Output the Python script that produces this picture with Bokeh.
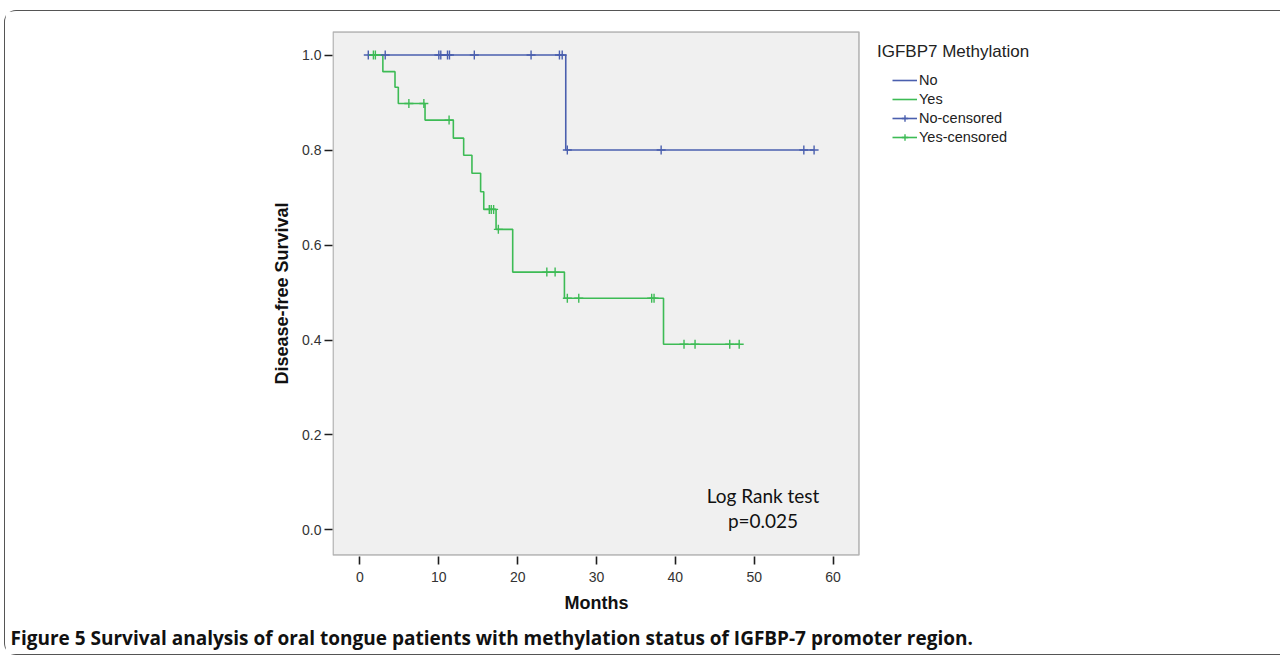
from bokeh.plotting import figure
from bokeh.models import (Range1d, Label, Legend, LegendItem, FixedTicker, BoxAnnotation, Title)
from bokeh.embed import file_html
from bokeh.resources import INLINE

# ---------------- data ----------------
no_step_time = [1.0, 26.1, 57.6]
no_step_surv = [1.0, 0.8, 0.8]
no_cens_time = [1.05, 3.2, 10.0, 10.25, 11.1, 11.35, 14.5, 21.7, 25.3, 25.65, 26.3, 38.2, 56.3, 57.6]
no_cens_surv = [1.0, 1.0, 1.0, 1.0, 1.0, 1.0, 1.0, 1.0, 1.0, 1.0, 0.8, 0.8, 0.8, 0.8]

yes_step_time = [1.5, 2.9, 4.44, 4.86, 8.25, 11.84, 13.15, 14.2, 15.3, 15.7, 17.26, 19.37, 25.93, 38.5, 48.1]
yes_step_surv = [1.0, 0.965, 0.932, 0.898, 0.863, 0.825, 0.789, 0.751, 0.712, 0.675, 0.633, 0.543, 0.488, 0.391, 0.391]
yes_cens_time = [1.7, 1.95, 6.2, 8.1, 11.3, 16.4, 16.65, 16.95, 17.55, 23.7, 24.75, 26.3, 27.75, 37.0, 37.3,
                 41.1, 42.5, 46.9, 48.1]
yes_cens_surv = [1.0, 1.0, 0.898, 0.898, 0.863, 0.675, 0.675, 0.675, 0.633, 0.543, 0.543, 0.488, 0.488, 0.488,
                 0.488, 0.391, 0.391, 0.391, 0.391]

x_ticks = [0, 10, 20, 30, 40, 50, 60]
y_ticks = [0.0, 0.2, 0.4, 0.6, 0.8, 1.0]
y_tick_labels = ["0.0", "0.2", "0.4", "0.6", "0.8", "1.0"]

x_label = "Months"
y_label = "Disease-free Survival"
legend_title = "IGFBP7 Methylation"
series_labels = ["No", "Yes", "No-censored", "Yes-censored"]
test_lines = ["Log Rank test", "p=0.025"]
caption = "Figure 5 Survival analysis of oral tongue patients with methylation status of IGFBP-7 promoter region."

# ---------------- layout (positions only) ----------------
W, H = 1276, 645
BL, BT, BB = 327, 19, 100
# data window of the frame (frame spans plot box + legend area)
X0, X1 = -3.488, 116.89
Y0, Y1 = -0.0558, 1.0516
# plot box (grey area) edges
BOX_L, BOX_R, BOX_T, BOX_B = -3.425, 63.30, 1.0484, -0.0526

BLUE = "#4A5FAE"
GREEN = "#3DBB55"
FONT = "Liberation Sans"

p = figure(width=W, height=H, output_backend="svg", toolbar_location=None,
           x_range=Range1d(X0, X1), y_range=Range1d(Y0, Y1),
           min_border_left=BL, min_border_right=0, min_border_top=BT, min_border_bottom=BB)
p.styles = {"margin-left": "4px", "margin-top": "10px",
            "border-top": "1.5px solid #555555", "border-left": "1.5px solid #555555",
            "border-bottom": "1.5px solid #555555",
            "border-top-left-radius": "12px", "border-bottom-left-radius": "12px"}
p.background_fill_color = "white"
p.border_fill_color = "white"
p.outline_line_color = None
p.xgrid.visible = False
p.ygrid.visible = False

p.add_layout(BoxAnnotation(left=BOX_L, right=BOX_R, top=BOX_T, bottom=BOX_B, level="underlay",
                           fill_color="#F0F0F0", fill_alpha=1.0,
                           line_color="#1E1E1E", line_width=1.6))

for ax in (p.xaxis[0], p.yaxis[0]):
    ax.axis_line_color = None
    ax.major_tick_line_color = "#1E1E1E"
    ax.major_tick_line_width = 1.6
    ax.major_tick_out = 8
    ax.major_tick_in = 0
    ax.minor_tick_line_color = None
    ax.major_label_text_font = FONT
    ax.major_label_text_font_size = "14px"
    ax.major_label_text_color = "#333333"
    ax.axis_label_text_font = FONT
    ax.axis_label_text_font_style = "bold"
    ax.axis_label_text_font_size = "18px"
    ax.axis_label_text_color = "#111111"

p.xaxis.ticker = FixedTicker(ticks=x_ticks)
p.yaxis.ticker = FixedTicker(ticks=y_ticks)
p.yaxis.major_label_overrides = {t: l for t, l in zip(y_ticks, y_tick_labels)}
p.yaxis.axis_label = y_label
p.xaxis.major_label_standoff = 7
p.yaxis.major_label_standoff = 3
p.yaxis.axis_label_standoff = 7

# x-axis title placed under the plot box (the frame also spans the legend area)
p.add_layout(Title(text=x_label, align="left", offset=232, standoff=12, text_font=FONT,
                   text_font_size="18px", text_font_style="bold", text_color="#111111"), "below")
# figure caption
p.add_layout(Title(text=caption, align="left", offset=-322, standoff=9, text_font="Open Sans",
                   text_font_size="19px", text_font_style="bold", text_color="#111111"), "below")

r_no = p.step(no_step_time, no_step_surv, mode="after", line_color=BLUE, line_width=1.6)
r_yes = p.step(yes_step_time, yes_step_surv, mode="after", line_color=GREEN, line_width=1.6)
r_noc = p.scatter(no_cens_time, no_cens_surv, marker="cross", size=9, line_color=BLUE, line_width=1.4)
r_yesc = p.scatter(yes_cens_time, yes_cens_surv, marker="cross", size=9, line_color=GREEN, line_width=1.4)

legend = Legend(items=[
    LegendItem(label=series_labels[0], renderers=[r_no]),
    LegendItem(label=series_labels[1], renderers=[r_yes]),
    LegendItem(label=series_labels[2], renderers=[r_no, r_noc]),
    LegendItem(label=series_labels[3], renderers=[r_yes, r_yesc]),
], location=(560, 411))
legend.label_text_font = FONT
legend.label_text_font_size = "14.5px"
legend.label_text_color = "#222222"
legend.glyph_width = 25
legend.glyph_height = 16
legend.label_height = 16
legend.spacing = 3
legend.label_standoff = 2
legend.padding = 0
legend.margin = 0
legend.background_fill_alpha = 0
legend.border_line_color = None
p.add_layout(legend, "center")

p.add_layout(Label(x=65.58, y=1.0084, text=legend_title, text_font=FONT,
                   text_font_size="17px", text_color="#222222", text_baseline="middle"))

p.add_layout(Label(x=51.12, y=0.0716, text=test_lines[0], text_font="Lato",
                   text_font_size="19px", text_color="#111111", text_align="center",
                   text_baseline="middle"))
p.add_layout(Label(x=51.12, y=0.021, text=test_lines[1], text_font="Lato",
                   text_font_size="19px", text_color="#111111", text_align="center",
                   text_baseline="middle"))

open("out.html", "w").write(file_html(p, INLINE))
